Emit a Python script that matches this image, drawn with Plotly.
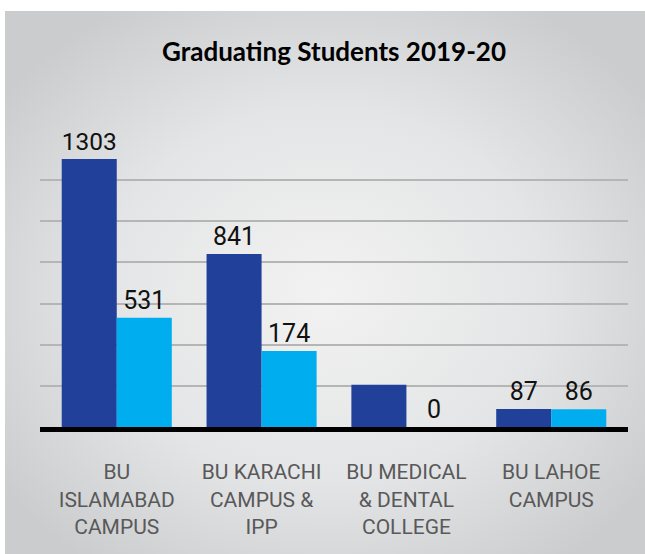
import base64
import plotly.graph_objects as go

# ---- data ----
categories = ["BU<br>ISLAMABAD<br>CAMPUS", "BU KARACHI<br>CAMPUS &<br>IPP",
              "BU MEDICAL<br>& DENTAL<br>COLLEGE", "BU LAHOE<br>CAMPUS"]
dark_values = [1303, 841, 205, 87]
dark_labels = ["1303", "841", "", "87"]
light_values = [531, 370, 0, 86]
light_labels = ["531", "174", "0", "86"]
title_text = "Graduating Students 2019-20"

# ---- background gradient ----
svg = ("<svg xmlns='http://www.w3.org/2000/svg' width='640' height='543' viewBox='0 0 640 543'>"
       "<defs><radialGradient id='g' cx='50%' cy='52%' r='62%'>"
       "<stop offset='0' stop-color='#f2f2f2'/><stop offset='0.55' stop-color='#e4e5e6'/>"
       "<stop offset='1' stop-color='#cbccce'/></radialGradient></defs>"
       "<rect width='640' height='543' fill='url(#g)'/></svg>")
bg_src = "data:image/svg+xml;base64," + base64.b64encode(svg.encode()).decode()

L, R, T, B = 40, 17, 139, 127
W, H = 645, 554
pw, ph = W - L - R, H - T - B

def px_x(p):
    return (p - L) / pw

def px_y(p):
    return (H - B - p) / ph

fig = go.Figure()
fig.add_trace(go.Bar(x=categories, y=dark_values, text=dark_labels,
                     marker=dict(color="#21409a", line=dict(width=0)),
                     textposition="outside", cliponaxis=False,
                     textfont=dict(family="Roboto", size=25, color="#111111")))
fig.add_trace(go.Bar(x=categories, y=light_values, text=light_labels,
                     marker=dict(color="#00aeef", line=dict(width=0)),
                     textposition="outside", cliponaxis=False,
                     textfont=dict(family="Roboto", size=25, color="#111111")))

fig.update_layout(
    width=W, height=H,
    margin=dict(l=L, r=R, t=T, b=B),
    paper_bgcolor="white",
    plot_bgcolor="rgba(0,0,0,0)",
    barmode="group", bargap=0.24, bargroupgap=0,
    showlegend=False,
    images=[dict(source=bg_src, xref="paper", yref="paper",
                 x=px_x(5), y=px_y(11), sizex=px_x(645) - px_x(5),
                 sizey=px_y(11) - px_y(554), xanchor="left", yanchor="top",
                 sizing="stretch", layer="below")],
    annotations=[dict(text="<b>" + title_text + "</b>", xref="paper", yref="paper",
                      x=0.5, y=px_y(51), xanchor="center", yanchor="middle",
                      showarrow=False,
                      font=dict(family="Lato", size=26, color="#000000"))],
    xaxis=dict(range=[-0.53, 3.53], showgrid=False, showline=True,
               linecolor="#000000", linewidth=5,
               ticks="", ticklabelstandoff=22,
               tickfont=dict(family="Roboto", size=21, color="#595959")),
    yaxis=dict(range=[0, 1400], dtick=200, showgrid=True, gridcolor="#b5b5b5",
               gridwidth=1.5, zeroline=False, showticklabels=False, ticks=""),
)

fig.write_html("out.html", config={"displayModeBar": False},
               post_script="document.body.style.margin='0';")
